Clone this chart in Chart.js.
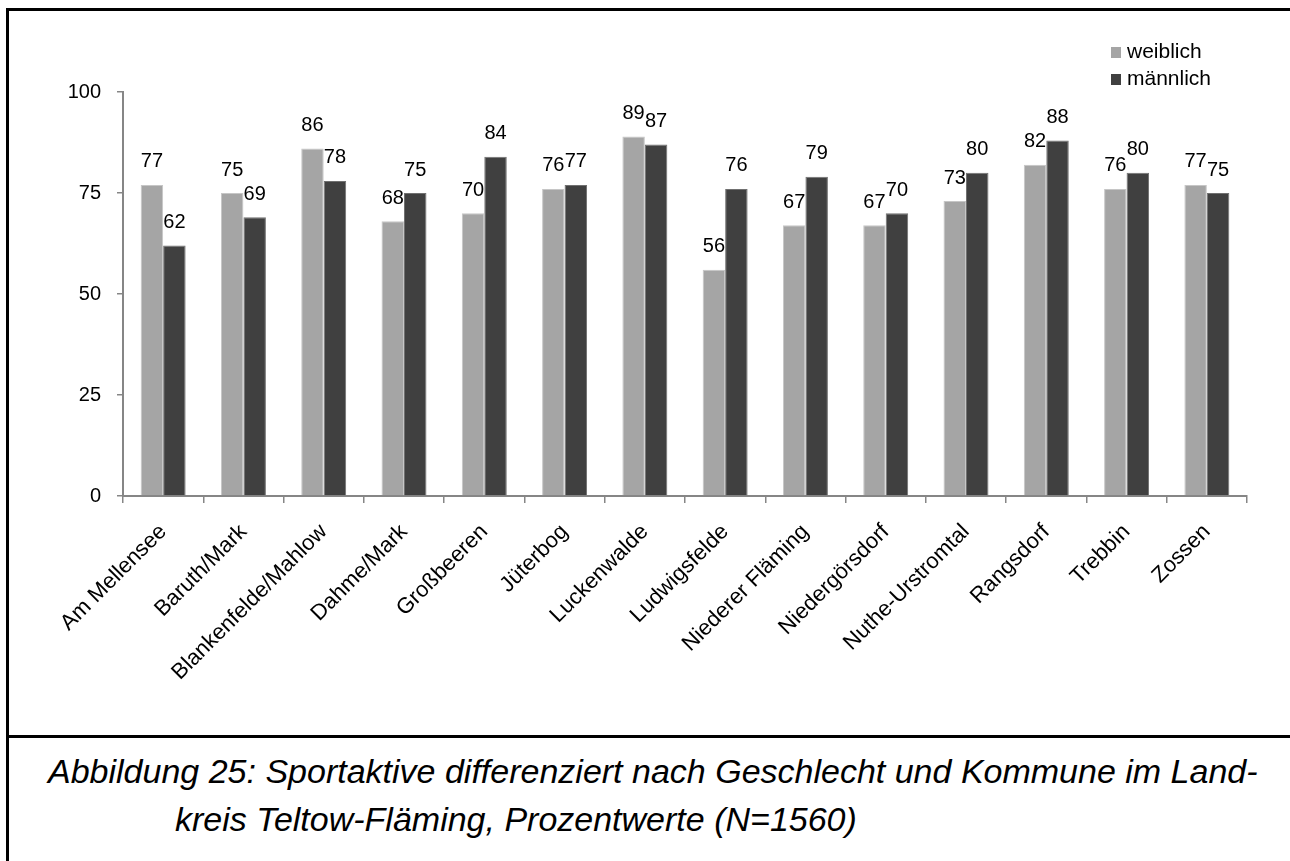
<!DOCTYPE html>
<html lang="de">
<head>
  <meta charset="UTF-8">
  <title>Sportaktive nach Geschlecht und Kommune</title>
  <script src="https://cdn.jsdelivr.net/npm/chart.js"></script>
  <style>
    html, body { margin: 0; background: #fff; font-family: "Liberation Sans", Arial, sans-serif; overflow: hidden; }
    .page { position: relative; width: 1290px; height: 861px; overflow: hidden; }
    .line { position: absolute; background: #000; }
    .chart-box { position: absolute; left: 0; top: 0; width: 1290px; height: 730px; }
    .legend { position: absolute; left: 1111px; top: 37px; font-size: 21px; color: #000; }
    .legend div { height: 27px; line-height: 27px; white-space: nowrap; }
    .legend span { display: inline-block; width: 10px; height: 11px; margin-right: 6px; }
    .caption { position: absolute; font-style: italic; font-size: 34px; line-height: 34px; color: #000; white-space: nowrap; }
  </style>
</head>
<body>
  <div class="page">
    <div class="line" style="left:6px; top:8px; width:1284px; height:3px;"></div>
    <div class="line" style="left:6px; top:8px; width:3px; height:853px;"></div>
    <div class="line" style="left:6px; top:735px; width:1284px; height:3px;"></div>
    <div class="chart-box"><canvas id="chart"></canvas></div>
    <div class="legend">
      <div><span style="background:#a5a5a5"></span>weiblich</div>
      <div><span style="background:#404040"></span>männlich</div>
    </div>
    <div class="caption" style="left:48px; top:754px;">Abbildung 25: Sportaktive differenziert nach Geschlecht und Kommune im Land-</div>
    <div class="caption" style="left:175px; top:802px;">kreis Teltow-Fläming, Prozentwerte (N=1560)</div>
  </div>

  <script>
    // Kommunen
    const communes = ['Am Mellensee', 'Baruth/Mark', 'Blankenfelde/Mahlow', 'Dahme/Mark', 'Großbeeren',
      'Jüterbog', 'Luckenwalde', 'Ludwigsfelde', 'Niederer Fläming', 'Niedergörsdorf',
      'Nuthe-Urstromtal', 'Rangsdorf', 'Trebbin', 'Zossen'];

    // Prozentwerte
    const female = [77, 75, 86, 68, 70, 76, 89, 56, 67, 67, 73, 82, 76, 77];
    const male = [62, 69, 78, 75, 84, 77, 87, 76, 79, 70, 80, 88, 80, 75];

    const yTicks = [0, 25, 50, 75, 100];

    const axisGray = '#868686';

    // value labels above the bars
    const valueLabels = {
      id: 'valueLabels',
      afterDatasetsDraw(chart) {
        const ctx = chart.ctx;
        ctx.save();
        ctx.font = '20px "Liberation Sans", Arial, sans-serif';
        ctx.fillStyle = '#000';
        ctx.textAlign = 'center';
        ctx.textBaseline = 'middle';
        chart.data.datasets.forEach((ds, i) => {
          chart.getDatasetMeta(i).data.forEach((bar, j) => {
            ctx.fillText(String(ds.data[j]), bar.x, bar.y - 23);
          });
        });
        ctx.restore();
      }
    };

    new Chart(document.getElementById('chart'), {
      type: 'bar',
      data: {
        labels: communes,
        datasets: [
          { label: 'weiblich', data: female, backgroundColor: '#a5a5a5', borderColor: '#c6c6c6', borderWidth: 1 },
          { label: 'männlich', data: male, backgroundColor: '#404040', borderColor: '#707070', borderWidth: 1 }
        ]
      },
      options: {
        responsive: true,
        maintainAspectRatio: false,
        animation: false,
        layout: { padding: { top: 92, right: 43, left: 0, bottom: 0 } },
        plugins: {
          legend: { display: false },
          tooltip: { enabled: false }
        },
        datasets: { bar: { categoryPercentage: 0.56, barPercentage: 1.0 } },
        scales: {
          x: {
            afterFit(scale) { scale.height = 234; },
            grid: { display: true, drawOnChartArea: false, drawTicks: true, tickLength: 7, color: axisGray, lineWidth: 1.5, offset: true },
            border: { display: true, color: axisGray, width: 2 },
            ticks: {
              autoSkip: false, maxRotation: 45, minRotation: 45, padding: 16,
              color: '#000', font: { family: '"Liberation Sans", Arial, sans-serif', size: 22 }
            }
          },
          y: {
            min: 0, max: 100,
            afterFit(scale) { scale.width = 123; },
            afterBuildTicks(scale) { scale.ticks = yTicks.map(v => ({ value: v })); },
            grid: { display: true, drawOnChartArea: false, drawTicks: true, tickLength: 6, color: axisGray, lineWidth: 1.5 },
            border: { display: true, color: axisGray, width: 2 },
            ticks: {
              padding: 16, color: '#000',
              font: { family: '"Liberation Sans", Arial, sans-serif', size: 20 }
            }
          }
        }
      },
      plugins: [valueLabels]
    });
  </script>
</body>
</html>
